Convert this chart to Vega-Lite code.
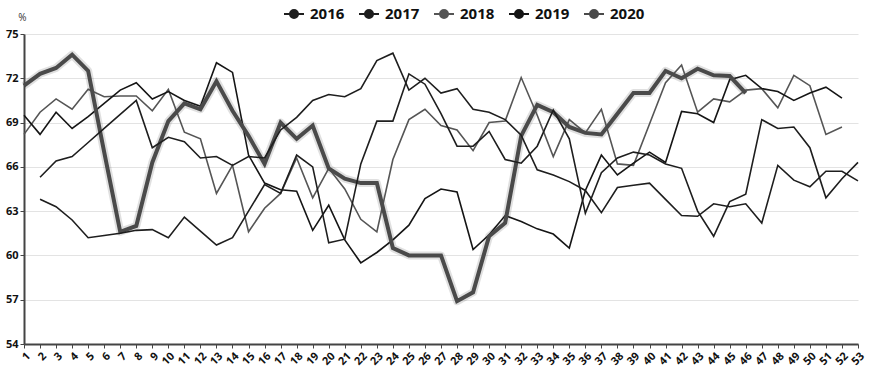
{
  "$schema": "https://vega.github.io/schema/vega-lite/v6.json",
  "width": 834,
  "height": 310,
  "autosize": {"type": "none"},
  "padding": {"left": 24, "top": 34, "right": 15, "bottom": 27},
  "background": "white",
  "config": {"font": "Open Sans", "view": {"stroke": null}},
  "data": {"values": [
    {"w": 1, "2018": 68.2, "2019": 69.5, "2020": 71.5},
    {"w": 2, "2016": 65.3, "2017": 63.8, "2018": 69.7, "2019": 68.2, "2020": 72.3},
    {"w": 3, "2016": 66.4, "2017": 63.3, "2018": 70.6, "2019": 69.7, "2020": 72.7},
    {"w": 4, "2016": 66.7, "2017": 62.4, "2018": 69.9, "2019": 68.6, "2020": 73.6},
    {"w": 5, "2016": 67.65, "2017": 61.2, "2018": 71.25, "2019": 69.4, "2020": 72.5},
    {"w": 6, "2016": 68.6, "2017": 61.35, "2018": 70.75, "2019": 70.3, "2020": 67.0},
    {"w": 7, "2016": 69.55, "2017": 61.5, "2018": 70.8, "2019": 71.2, "2020": 61.6},
    {"w": 8, "2016": 70.5, "2017": 61.7, "2018": 70.8, "2019": 71.7, "2020": 62.0},
    {"w": 9, "2016": 67.3, "2017": 61.75, "2018": 69.8, "2019": 70.6, "2020": 66.3},
    {"w": 10, "2016": 68.0, "2017": 61.2, "2018": 71.25, "2019": 71.1, "2020": 69.1},
    {"w": 11, "2016": 67.7, "2017": 62.6, "2018": 68.35, "2019": 70.5, "2020": 70.3},
    {"w": 12, "2016": 66.6, "2017": 61.65, "2018": 67.9, "2019": 70.1, "2020": 69.9},
    {"w": 13, "2016": 66.7, "2017": 60.7, "2018": 64.2, "2019": 73.05, "2020": 71.8},
    {"w": 14, "2016": 66.1, "2017": 61.2, "2018": 66.1, "2019": 72.4, "2020": 69.8},
    {"w": 15, "2016": 66.7, "2017": 63.0, "2018": 61.6, "2019": 66.8, "2020": 68.1},
    {"w": 16, "2016": 66.6, "2017": 64.8, "2018": 63.2, "2019": 64.9, "2020": 66.2},
    {"w": 17, "2016": 68.5, "2017": 64.2, "2018": 64.2, "2019": 64.45, "2020": 69.0},
    {"w": 18, "2016": 69.35, "2017": 66.8, "2018": 66.6, "2019": 64.35, "2020": 67.9},
    {"w": 19, "2016": 70.5, "2017": 66.0, "2018": 63.9, "2019": 61.7, "2020": 68.8},
    {"w": 20, "2016": 70.9, "2017": 60.85, "2018": 65.9, "2019": 63.4, "2020": 65.9},
    {"w": 21, "2016": 70.75, "2017": 61.1, "2018": 64.5, "2019": 61.05, "2020": 65.2},
    {"w": 22, "2016": 71.3, "2017": 66.2, "2018": 62.45, "2019": 59.5, "2020": 64.9},
    {"w": 23, "2016": 73.2, "2017": 69.1, "2018": 61.6, "2019": 60.2, "2020": 64.9},
    {"w": 24, "2016": 73.7, "2017": 69.1, "2018": 66.5, "2019": 61.05, "2020": 60.5},
    {"w": 25, "2016": 71.2, "2017": 72.3, "2018": 69.2, "2019": 62.05, "2020": 60.0},
    {"w": 26, "2016": 72.0, "2017": 71.6, "2018": 69.9, "2019": 63.85, "2020": 60.0},
    {"w": 27, "2016": 71.0, "2017": 69.6, "2018": 68.8, "2019": 64.5, "2020": 60.0},
    {"w": 28, "2016": 71.3, "2017": 67.4, "2018": 68.5, "2019": 64.3, "2020": 56.9},
    {"w": 29, "2016": 69.9, "2017": 67.4, "2018": 67.1, "2019": 60.4, "2020": 57.5},
    {"w": 30, "2016": 69.7, "2017": 68.4, "2018": 69.0, "2019": 61.4, "2020": 61.3},
    {"w": 31, "2016": 69.2, "2017": 66.5, "2018": 69.1, "2019": 62.7, "2020": 62.2},
    {"w": 32, "2016": 68.15, "2017": 66.25, "2018": 72.05, "2019": 62.3, "2020": 68.1},
    {"w": 33, "2016": 65.8, "2017": 67.4, "2018": 69.5, "2019": 61.8, "2020": 70.2},
    {"w": 34, "2016": 65.45, "2017": 69.85, "2018": 66.7, "2019": 61.45, "2020": 69.7},
    {"w": 35, "2016": 65.0, "2017": 67.9, "2018": 69.2, "2019": 60.5, "2020": 68.7},
    {"w": 36, "2016": 64.4, "2017": 62.85, "2018": 68.3, "2019": 64.4, "2020": 68.3},
    {"w": 37, "2016": 62.9, "2017": 65.6, "2018": 69.9, "2019": 66.8, "2020": 68.2},
    {"w": 38, "2016": 64.6, "2017": 66.6, "2018": 66.2, "2019": 65.45, "2020": 69.6},
    {"w": 39, "2016": 64.75, "2017": 67.0, "2018": 66.1, "2019": 66.25, "2020": 71.0},
    {"w": 40, "2016": 64.9, "2017": 66.8, "2018": 68.9, "2019": 67.0, "2020": 71.0},
    {"w": 41, "2016": 63.8, "2017": 66.2, "2018": 71.7, "2019": 66.3, "2020": 72.5},
    {"w": 42, "2016": 62.7, "2017": 65.9, "2018": 72.9, "2019": 69.75, "2020": 72.0},
    {"w": 43, "2016": 62.65, "2017": 63.0, "2018": 69.7, "2019": 69.6, "2020": 72.65},
    {"w": 44, "2016": 63.5, "2017": 61.3, "2018": 70.6, "2019": 69.0, "2020": 72.2},
    {"w": 45, "2016": 63.3, "2017": 63.65, "2018": 70.4, "2019": 71.9, "2020": 72.15},
    {"w": 46, "2016": 63.5, "2017": 64.15, "2018": 71.2, "2019": 72.2, "2020": 71.0},
    {"w": 47, "2016": 62.2, "2017": 69.2, "2018": 71.3, "2019": 71.3},
    {"w": 48, "2016": 66.1, "2017": 68.6, "2018": 70.0, "2019": 71.1},
    {"w": 49, "2016": 65.1, "2017": 68.7, "2018": 72.2, "2019": 70.5},
    {"w": 50, "2016": 64.65, "2017": 67.3, "2018": 71.5, "2019": 71.0},
    {"w": 51, "2016": 65.7, "2017": 63.9, "2018": 68.2, "2019": 71.4},
    {"w": 52, "2016": 65.7, "2017": 65.2, "2018": 68.7, "2019": 70.65},
    {"w": 53, "2016": 65.05, "2017": 66.3}
  ]},
  "transform": [
    {"fold": ["2016", "2017", "2018", "2019", "2020"], "as": ["year", "value"]},
    {"filter": "isValid(datum.value)"}
  ],
  "encoding": {
    "x": {
      "field": "w", "type": "ordinal", "sort": "ascending",
      "scale": {"type": "point", "padding": 0},
      "axis": {
        "title": null, "labelAngle": -45, "labelFontWeight": "bold", "labelFontSize": 11,
        "labelColor": "#111", "domainColor": "#444", "domainWidth": 2, "tickColor": "#444",
        "tickSize": 4, "grid": false, "labelPadding": 2
      }
    },
    "y": {
      "field": "value", "type": "quantitative",
      "scale": {"domain": [54, 75], "nice": false, "zero": false},
      "axis": {
        "values": [54, 57, 60, 63, 66, 69, 72, 75],
        "title": "%", "titleAngle": 0, "titleX": -2, "titleY": -12, "titleAlign": "center",
        "titleFontSize": 10, "titleFontWeight": "normal", "titleColor": "#333",
        "labelFontWeight": "bold", "labelFontSize": 11, "labelColor": "#111",
        "gridColor": "#e3e3e3", "domainColor": "#444", "domainWidth": 2,
        "tickSize": 4, "tickColor": "#444", "labelPadding": 2
      }
    }
  },
  "layer": [
    {
      "transform": [{"filter": "datum.year === '2020'"}],
      "mark": {"type": "line", "strokeWidth": 8, "opacity": 0.18, "color": "#555555", "strokeJoin": "round"}
    },
    {
      "mark": {"type": "line", "strokeJoin": "miter"},
      "encoding": {
        "color": {
          "field": "year", "type": "nominal",
          "scale": {"domain": ["2016", "2017", "2018", "2019", "2020"], "range": ["#1e1e1e", "#1e1e1e", "#555555", "#151515", "#4a4a4a"]},
          "legend": {
            "orient": "none", "legendX": 259, "legendY": -31, "direction": "horizontal", "title": null,
            "labelFontSize": 15, "labelFontWeight": "bold", "labelColor": "#111",
            "symbolType": "M-1,0L1,0M0.4,0A0.4,0.4,0,1,1,-0.4,0A0.4,0.4,0,1,1,0.4,0Z",
            "symbolSize": 400, "symbolStrokeWidth": 2, "columnPadding": 10, "labelOffset": 5,
            "encode": {"symbols": {"update": {"fill": {"scale": "color", "field": "value"}}}}
          }
        },
        "strokeWidth": {"condition": {"test": "datum.year === '2020'", "value": 4}, "value": 1.6}
      }
    }
  ]
}
